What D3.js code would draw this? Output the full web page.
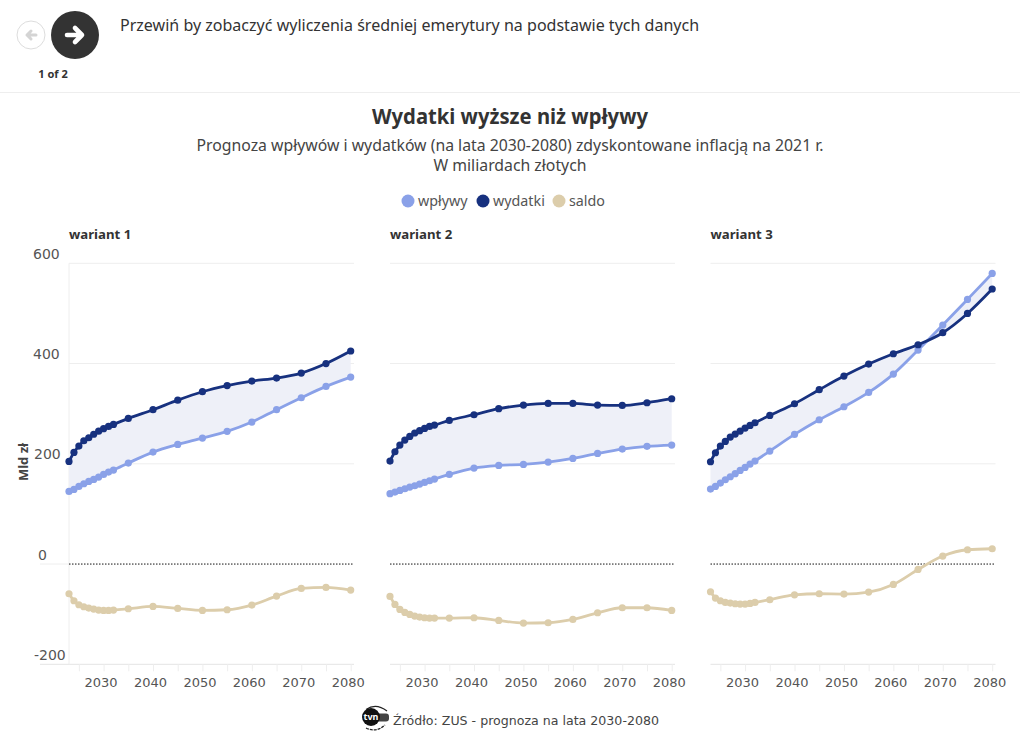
<!DOCTYPE html>
<html lang="pl">
<head>
<meta charset="utf-8">
<script src="https://cdn.jsdelivr.net/npm/d3@7"></script>
<style>
html,body{margin:0;padding:0;background:#fff;overflow:hidden}
svg{display:block;font-family:"Noto Sans",sans-serif;fill:#333}
.tick text{font-family:"DejaVu Sans",sans-serif;fill:#555}
</style>
</head>
<body>
<div id="chart"></div>
<script>
const years = [2023,2024,2025,2026,2027,2028,2029,2030,2031,2032,2035,2040,2045,2050,2055,2060,2065,2070,2075,2080];
const panelNames = ["wariant 1","wariant 2","wariant 3"];
const xTickYears = [2025,2030,2035,2040,2045,2050,2055,2060,2065,2070,2075,2080];
const xLabelYears = [2030,2040,2050,2060,2070,2080];
const yTicks = [-200,0,200,400,600];
const legendNames = ["wpływy","wydatki","saldo"];
const seriesColors = ["#8aa1e8","#17317f","#dccdab"];

const wplywy1 = [144.9,148.9,154.9,160.2,164.9,168.9,173.6,178.9,183.5,187.5,201.5,223.4,238.7,251.3,264.7,283.3,307.9,331.8,354.4,373];
const wydatki1 = [204.8,222.7,235.4,246,252,259,265,270,274.6,278.6,290.6,307.9,327,343.8,356,365,371,381,400,425];
const saldo1 = [-59.3,-73.2,-81.2,-85.2,-87.8,-89.8,-91.8,-92.5,-92.5,-91.8,-89.2,-84.5,-88.5,-92.5,-91.2,-81.9,-63.9,-48.7,-46.7,-52];

const wplywy2 = [140.3,143.6,146.9,150.2,153.5,156.2,159.6,162.8,166.2,169.5,178.8,191.5,196.8,198.8,203.5,210.8,220.7,229.4,234.8,237.4];
const wydatki2 = [205.5,224,237.4,247.4,254.6,261.4,266,270.6,274.6,277.3,286.6,297.9,309.9,317.2,320.4,320.4,317.2,316.4,321.8,329.8];
const saldo2 = [-64.6,-80.6,-90.5,-96.5,-100.5,-103.8,-105.8,-107.1,-107.8,-107.8,-107.8,-107.1,-112.5,-117.8,-117.1,-110.5,-97.2,-87.2,-87.2,-92.5];

const wplywy3 = [149.6,154.8,161.6,168.2,174.2,180.2,186.8,192.7,199.5,205.5,225.4,258.6,287.9,313.8,342.4,379,426.9,476.8,528,579.8];
const wydatki3 = [204.1,222,235.4,244.7,253.4,259.4,265.3,271.3,276.6,281.9,296.5,319.8,347.8,375,399,419.6,437.5,461.5,500,548.7];
const saldo3 = [-55.3,-67.8,-73.2,-76.6,-77.8,-79.2,-79.8,-79.8,-78.6,-76.6,-71.2,-61.3,-59.3,-59.9,-55.9,-40.7,-10.8,16,28.5,30.5];

const inflows = [wplywy1,wplywy2,wplywy3];
const outflows = [wydatki1,wydatki2,wydatki3];
const balances = [saldo1,saldo2,saldo3];

const W = 1020, H = 743;
const svg = d3.select("#chart").append("svg").attr("width",W).attr("height",H);
svg.append("rect").attr("width",W).attr("height",H).attr("fill","#fff");

// header / navigation
const arrow = (g,cx,cy,s,head,color,dir,sw)=>{
  const p = d3.path();
  p.moveTo(cx-dir*s,cy); p.lineTo(cx+dir*s,cy);
  p.moveTo(cx+dir*(s-head),cy-head); p.lineTo(cx+dir*s,cy); p.lineTo(cx+dir*(s-head),cy+head);
  g.append("path").attr("d",p.toString()).attr("fill","none").attr("stroke",color)
    .attr("stroke-width",sw).attr("stroke-linecap","round").attr("stroke-linejoin","round");
};
svg.append("circle").attr("cx",31).attr("cy",35).attr("r",14).attr("fill","#fff").attr("stroke","#ddd").attr("stroke-width",1);
arrow(svg,31.5,35,4.5,4,"#d4d4d4",-1,3);
svg.append("circle").attr("cx",75).attr("cy",35).attr("r",24).attr("fill","#333");
arrow(svg,74.5,35,7.5,7,"#fff",1,4.6);
svg.append("text").attr("x",53).attr("y",78).attr("text-anchor","middle").attr("font-size",11).attr("font-weight",700).text("1 of 2");
svg.append("text").attr("x",120).attr("y",31).attr("font-size",16.05).text("Przewiń by zobaczyć wyliczenia średniej emerytury na podstawie tych danych");
svg.append("line").attr("x1",0).attr("x2",W).attr("y1",92.5).attr("y2",92.5).attr("stroke","#eee");

// titles
svg.append("text").attr("x",510).attr("y",124).attr("text-anchor","middle").attr("font-size",21).attr("font-weight",700)
  .attr("textLength",276).attr("lengthAdjust","spacingAndGlyphs").text("Wydatki wyższe niż wpływy");
svg.append("text").attr("x",510).attr("y",151).attr("text-anchor","middle").attr("font-size",15.8).attr("fill","#444").text("Prognoza wpływów i wydatków (na lata 2030-2080) zdyskontowane inflacją na 2021 r.");
svg.append("text").attr("x",510).attr("y",171).attr("text-anchor","middle").attr("font-size",15.8).attr("fill","#444").text("W miliardach złotych");

// legend
const legendCx = [408,483,559];
legendNames.forEach((n,i)=>{
  svg.append("circle").attr("cx",legendCx[i]).attr("cy",201).attr("r",6.5).attr("fill",seriesColors[i]);
  svg.append("text").attr("x",legendCx[i]+10).attr("y",206).attr("font-size",14.3).attr("fill","#555").text(n);
});

// panels
const y = d3.scaleLinear().domain([-200,600]).range([664.3,263.3]);
const panelLeft = [69,390,710.5];
const panelW = 285;
const curve = d3.curveMonotoneX;

panelNames.forEach((name,i)=>{
  const x0 = panelLeft[i];
  const x = d3.scaleLinear().domain([2023,2080]).range([x0,x0+281.7]);
  const g = svg.append("g");
  g.append("text").attr("x",x0).attr("y",239).attr("font-size",13.2).attr("font-weight",700).text(name);

  // grid
  g.selectAll("line.grid").data(yTicks.filter(t=>t!==0)).join("line")
    .attr("x1",x0).attr("x2",x0+panelW).attr("y1",d=>y(d)).attr("y2",d=>y(d))
    .attr("stroke",d=>d===-200?"#e4e4e4":"#eeeeee").attr("stroke-width",1);

  if(i===0){
    g.append("line").attr("x1",x0).attr("x2",x0).attr("y1",y(600)).attr("y2",y(-200)).attr("stroke","#eeeeee");
    g.append("line").attr("x1",40).attr("x2",x0).attr("y1",y(0)).attr("y2",y(0)).attr("stroke","#eeeeee");
    g.append("line").attr("x1",40).attr("x2",x0).attr("y1",y(-200)).attr("y2",y(-200)).attr("stroke","#e4e4e4");
    const yAxis = d3.axisLeft(y).tickValues(yTicks).tickSize(0).tickFormat(d=>String(d));
    const ya = g.append("g").attr("transform",`translate(${x0},0)`).call(yAxis);
    ya.select(".domain").remove();
    const labelX = {"600":33,"400":33,"200":34,"0":38,"-200":34};
    ya.selectAll("text").attr("text-anchor","start").attr("font-size",14)
      .attr("x",d=>labelX[d]-x0).attr("dy",0).attr("y",-5);
    g.append("text").attr("transform","translate(28,462) rotate(-90)").attr("text-anchor","middle")
      .attr("font-size",13).attr("font-weight",700).attr("fill","#444").text("Mld zł");
  }

  // x axis
  const xAxis = d3.axisBottom(x).tickValues(xTickYears).tickSize(-7).tickPadding(0)
    .tickFormat(d=>xLabelYears.includes(d)?String(d):"");
  const xa = g.append("g").attr("transform",`translate(0,${y(-200)+7})`).call(xAxis);
  xa.select(".domain").remove();
  xa.selectAll("line").attr("stroke","#eeeeee");
  xa.selectAll("text").attr("font-size",13).attr("y",6).attr("dy","0.71em").attr("dx",-3);

  // band between series
  const rows = years.map((yr,k)=>({yr,a:inflows[i][k],b:outflows[i][k],c:balances[i][k]}));
  g.append("path").datum(rows).attr("fill","#eef0f8")
    .attr("d",d3.area().x(d=>x(d.yr)).y0(d=>y(d.a)).y1(d=>y(d.b)).curve(curve));

  // zero line
  g.append("line").attr("x1",x0).attr("x2",x0+panelW).attr("y1",y(0)).attr("y2",y(0))
    .attr("stroke","#111").attr("stroke-width",1).attr("stroke-dasharray","1.5,1.5");

  // series
  ["a","b","c"].forEach((key,s)=>{
    g.append("path").datum(rows).attr("fill","none").attr("stroke",seriesColors[s]).attr("stroke-width",2.8)
      .attr("d",d3.line().x(d=>x(d.yr)).y(d=>y(d[key])).curve(curve));
    g.selectAll(null).data(rows).join("circle")
      .attr("cx",d=>x(d.yr)).attr("cy",d=>y(d[key])).attr("r",3.6).attr("fill",seriesColors[s]);
  });
});

// source
const logo = svg.append("g");
logo.append("path").attr("d","M366 709.5 Q376 702.5 387 711").attr("fill","none").attr("stroke","#222").attr("stroke-width",1.2);
logo.append("path").attr("d","M366 728 Q376 733 385 725").attr("fill","none").attr("stroke","#222").attr("stroke-width",1.2).attr("stroke-dasharray","3,1");
logo.append("rect").attr("x",372).attr("y",713.5).attr("width",17).attr("height",8).attr("rx",3).attr("fill","#444");
logo.append("circle").attr("cx",371).attr("cy",717).attr("r",9).attr("fill","#111");
logo.append("text").attr("x",371).attr("y",720).attr("text-anchor","middle").attr("font-size",9).attr("font-weight",700).attr("fill","#fff").text("tvn");
svg.append("text").attr("x",393).attr("y",725).attr("font-size",12.6).attr("fill","#444")
  .style("font-family","'DejaVu Sans',sans-serif").text("Źródło: ZUS - prognoza na lata 2030-2080");
</script>
</body>
</html>
